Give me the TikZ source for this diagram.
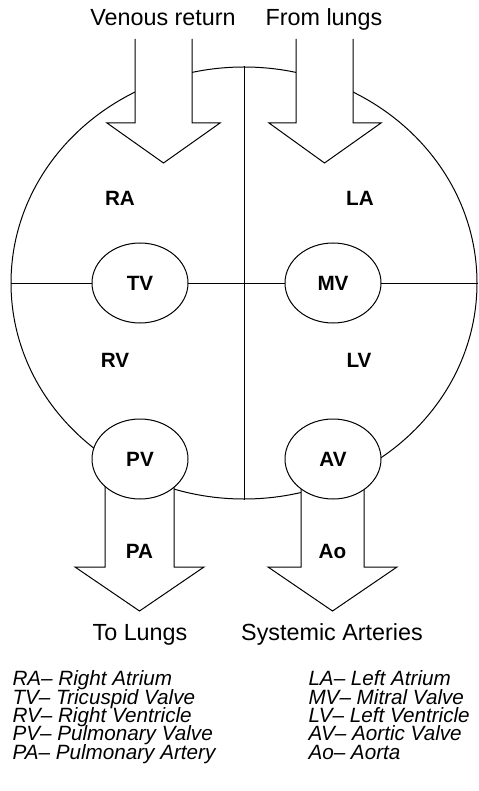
\documentclass[tikz,border=0pt]{standalone}
\usepackage{fontspec}
\setmainfont{Liberation Sans}
\usetikzlibrary{shapes.geometric}

\begin{document}
\begin{tikzpicture}[
  x=0.75pt, y=-0.75pt,
  line width=0.75pt,
  wall/.style={ellipse,draw,inner sep=0pt,minimum width=349.5pt,minimum height=324pt},
  valve/.style={ellipse,draw,fill=white,inner sep=0pt,minimum width=72pt,
    minimum height=60pt,font=\fontsize{15.5}{17}\selectfont\bfseries},
  chamber/.style={font=\fontsize{15.5}{17}\selectfont\bfseries,anchor=base},
  flow/.style={draw,fill=white,line join=miter},
  caption/.style={font=\fontsize{17.5}{20}\selectfont,anchor=base},
  key/.style={font=\fontsize{15.5}{13.7}\selectfont\itshape\lineskiplimit-20pt\relax,
    align=left,anchor=base west,inner sep=0pt}
]
  \useasboundingbox (0,0) rectangle (478,791);

  % heart outline and septum
  \node[wall] (heart) at (244,283) {};
  \draw (heart.west) -- (heart.east);
  \draw (heart.north) -- (heart.south);

  % blood flow in and out
  \path[flow] (135,39) -- (135,123) -- (107,123) -- (163.5,163) -- (220,123) -- (192,123) -- (192,39);
  \path[flow] (296,39) -- (296,123) -- (269,123) -- (324.5,163) -- (381,123) -- (353,123) -- (353,39);
  \path[flow] (105,459) -- (105,567) -- (75,567) -- (139.5,611) -- (204,567) -- (174,567) -- (174,459);
  \path[flow] (301,459) -- (301,567) -- (268,567) -- (332.5,611) -- (397,567) -- (364,567) -- (364,459);

  % valves
  \node[valve] (tv) at (140,283) {TV};
  \node[valve] (mv) at (333,283) {MV};
  \node[valve] (pv) at (140,459) {PV};
  \node[valve] (av) at (333,459) {AV};

  % chambers and vessels
  \node[chamber] (ra) at (120,206) {RA};
  \node[chamber] (la) at (360,206) {LA};
  \node[chamber] (rv) at (115,367) {RV};
  \node[chamber] (lv) at (359,367) {LV};
  \node[chamber] (pa) at (139.5,558) {PA};
  \node[chamber] (ao) at (332.5,558) {Ao};

  \node[caption] (venous) at (163,26) {Venous return};
  \node[caption] (fromlungs) at (324,26) {From lungs};
  \node[caption] (tolungs) at (140,640) {To Lungs};
  \node[caption] (systemic) at (332,640) {Systemic Arteries};

  % abbreviations (base sits on the last line)
  \node[key] (keyleft) at (12,759) {RA-- Right Atrium\\ TV-- Tricuspid Valve\\
    RV-- Right Ventricle\\ PV-- Pulmonary Valve\\ PA-- Pulmonary Artery};
  \node[key] (keyright) at (308,759) {LA-- Left Atrium\\ MV-- Mitral Valve\\
    LV-- Left Ventricle\\ AV-- Aortic Valve\\ Ao-- Aorta};
\end{tikzpicture}
\end{document}
